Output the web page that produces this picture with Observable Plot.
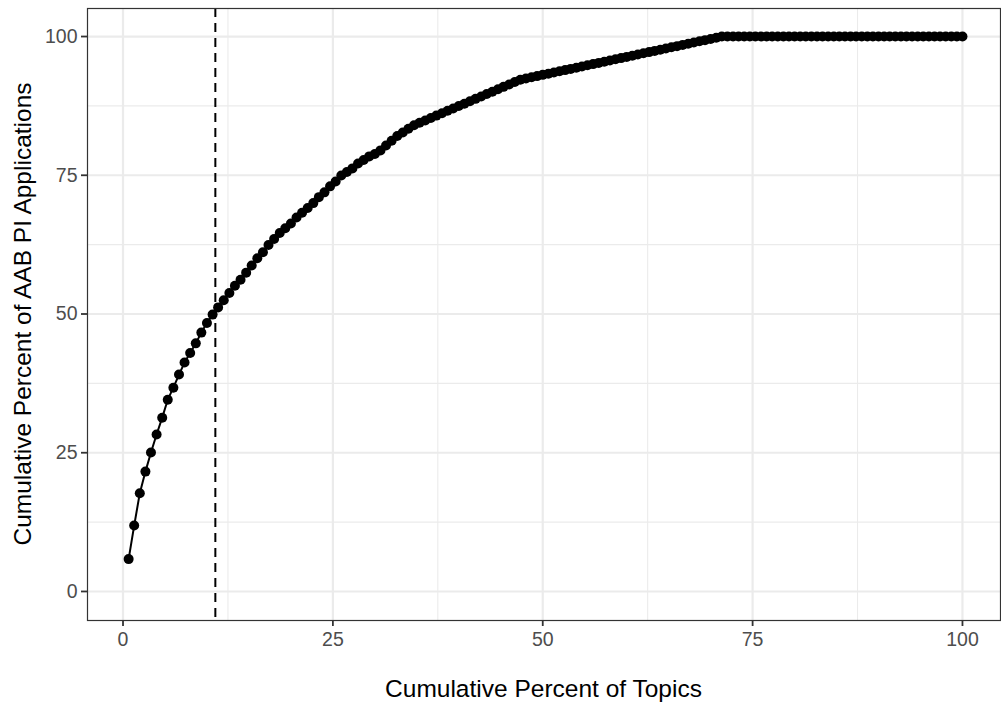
<!DOCTYPE html>
<html><head><meta charset="utf-8">
<script src="https://cdn.jsdelivr.net/npm/d3@7"></script>
<script src="https://cdn.jsdelivr.net/npm/@observablehq/plot@0.6"></script>
<style>
html,body{margin:0;padding:0;background:#fff;}
#chart svg{display:block;}
</style></head><body><div id="chart"></div>
<script>
// Cumulative percent of topics (x) for each of the ranked topics
const topicPct = [
  0.67,1.33,2,2.67,3.33,4,4.67,5.33,6,6.67,7.33,8,8.67,9.33,10,
  10.67,11.33,12,12.67,13.33,14,14.67,15.33,16,16.67,17.33,18,18.67,19.33,20,
  20.67,21.33,22,22.67,23.33,24,24.67,25.33,26,26.67,27.33,28,28.67,29.33,30,
  30.67,31.33,32,32.67,33.33,34,34.67,35.33,36,36.67,37.33,38,38.67,39.33,40,
  40.67,41.33,42,42.67,43.33,44,44.67,45.33,46,46.67,47.33,48,48.67,49.33,50,
  50.67,51.33,52,52.67,53.33,54,54.67,55.33,56,56.67,57.33,58,58.67,59.33,60,
  60.67,61.33,62,62.67,63.33,64,64.67,65.33,66,66.67,67.33,68,68.67,69.33,70,
  70.67,71.33,72,72.67,73.33,74,74.67,75.33,76,76.67,77.33,78,78.67,79.33,80,
  80.67,81.33,82,82.67,83.33,84,84.67,85.33,86,86.67,87.33,88,88.67,89.33,90,
  90.67,91.33,92,92.67,93.33,94,94.67,95.33,96,96.67,97.33,98,98.67,99.33,100
];
// Cumulative percent of AAB PI applications (y)
const cumAppPct = [
  5.83,11.88,17.71,21.6,25.05,28.29,31.32,34.56,36.72,39.09,41.25,42.98,44.71,46.65,48.38,
  49.89,51.19,52.48,53.78,55.08,56.16,57.45,58.75,60.04,61.12,62.42,63.5,64.58,65.44,66.31,
  67.39,68.25,69.11,69.98,71.06,71.92,73,73.87,74.95,75.59,76.24,77.11,77.75,78.4,78.83,
  79.48,80.35,81.21,82.07,82.72,83.37,84.02,84.45,84.88,85.31,85.75,86.18,86.61,87.04,87.47,
  87.9,88.34,88.77,89.2,89.63,90.06,90.5,90.93,91.36,91.79,92.22,92.44,92.66,92.87,93.09,
  93.3,93.52,93.74,93.95,94.17,94.38,94.6,94.82,95.03,95.25,95.46,95.68,95.9,96.11,96.33,
  96.54,96.76,96.98,97.19,97.41,97.62,97.84,98.06,98.27,98.49,98.7,98.92,99.14,99.35,99.57,
  99.78,100,100,100,100,100,100,100,100,100,100,100,100,100,100,
  100,100,100,100,100,100,100,100,100,100,100,100,100,100,100,
  100,100,100,100,100,100,100,100,100,100,100,100,100,100,100
];
const majorTicks = [0, 25, 50, 75, 100];
const minorTicks = [12.5, 37.5, 62.5, 87.5];
const cutoffPct = [11];
const xTitle = "Cumulative Percent of Topics";
const yTitle = "Cumulative Percent of AAB PI Applications";

const data = topicPct.map((x, i) => ({x, y: cumAppPct[i]}));

const W = 1001, H = 704;
const mL = 87, mR = 1, mT = 8, mB = 84;
const font = "'Liberation Sans', Arial, Helvetica, sans-serif";

const chart = Plot.plot({
  width: W, height: H,
  marginLeft: mL, marginRight: mR, marginTop: mT, marginBottom: mB,
  style: {fontFamily: font, background: "#fff", overflow: "visible"},
  x: {domain: [-4.23, 104.53]},
  y: {domain: [-5.23, 105.05]},
  marks: [
    Plot.gridX(minorTicks, {stroke: "#EBEBEB", strokeOpacity: 1, strokeWidth: 1.1}),
    Plot.gridY(minorTicks, {stroke: "#EBEBEB", strokeOpacity: 1, strokeWidth: 1.1}),
    Plot.gridX(majorTicks, {stroke: "#EBEBEB", strokeOpacity: 1, strokeWidth: 2.2}),
    Plot.gridY(majorTicks, {stroke: "#EBEBEB", strokeOpacity: 1, strokeWidth: 2.2}),
    Plot.ruleX(cutoffPct, {stroke: "#000", strokeWidth: 2, strokeDasharray: "9,6"}),
    Plot.line(data, {x: "x", y: "y", stroke: "#000", strokeWidth: 2}),
    Plot.dot(data, {x: "x", y: "y", r: 5, fill: "#000", stroke: "none"}),
    Plot.frame({stroke: "#333333", strokeWidth: 1.2}),
    Plot.axisX(majorTicks, {tickSize: 6, tickPadding: 6, fontSize: 19.5, stroke: "#333333", strokeWidth: 1.8, fill: "#4D4D4D", label: null}),
    Plot.axisY(majorTicks, {tickSize: 6, tickPadding: 4, fontSize: 19.5, stroke: "#333333", strokeWidth: 1.8, fill: "#4D4D4D", label: null})
  ]
});

const svg = d3.select(chart);
svg.append("text")
  .attr("x", mL + (W - mL - mR) / 2)
  .attr("y", 697)
  .attr("text-anchor", "middle")
  .attr("font-family", font)
  .attr("font-size", 24.5)
  .attr("fill", "#000")
  .text(xTitle);
svg.append("text")
  .attr("transform", `translate(31,${mT + (H - mT - mB) / 2}) rotate(-90)`)
  .attr("text-anchor", "middle")
  .attr("font-family", font)
  .attr("font-size", 24.5)
  .attr("fill", "#000")
  .text(yTitle);

document.getElementById("chart").appendChild(chart);
</script>
</body></html>
